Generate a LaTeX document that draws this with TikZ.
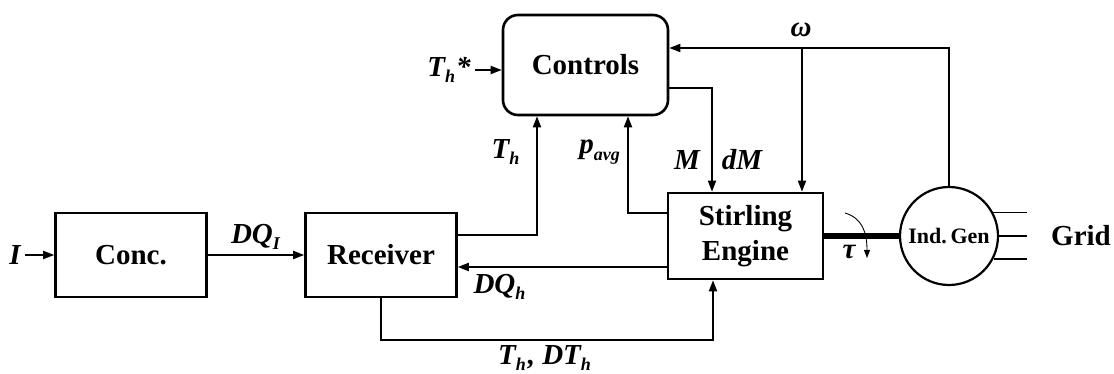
\documentclass[tikz,border=0pt]{standalone}
\usepackage{fontspec}
\setmainfont{Liberation Serif}
\usetikzlibrary{arrows.meta}
\newcommand{\lsub}[1]{\raisebox{-0.22em}{\fontsize{18}{18}\selectfont #1\kern1pt}}
\begin{document}
\begin{tikzpicture}[x=1pt,y=-1pt,
  blk/.style={draw, line width=2.6pt, inner sep=0pt, font=\fontsize{29}{35}\selectfont\bfseries, align=center},
  lbl/.style={inner sep=0pt, font=\fontsize{29}{33}\selectfont\bfseries\itshape},
  conn/.style={line width=1.8pt},
  arr/.style={line width=1.8pt, -{Triangle[length=11pt,width=8pt]}}]
\useasboundingbox (0,0) rectangle (1114,374);
% blocks
\node[blk, minimum width=151pt, minimum height=84pt] (conc) at (131,255) {Conc.};
\node[blk, minimum width=151pt, minimum height=84pt] (rec) at (381,255) {Receiver};
\node[blk, minimum width=165pt, minimum height=100pt, rounded corners=15pt] (ctl) at (585.5,65) {Controls};
\node[blk, minimum width=155pt, minimum height=86pt] (se) at (745.5,236) {Stirling\\Engine};
\node[draw, circle, line width=2.2pt, minimum size=98pt, inner sep=0pt, font=\fontsize{22}{24}\selectfont\bfseries] (gen) at (949,236) {Ind.\,Gen};
% labels
\node[lbl] (I) at (15,255) {I};
\node[lbl] (thstar) at (449,70) {T\lsub{h}*};
\node[lbl] (dqi) at (256,237) {DQ\lsub{I}};
\node[lbl] (dqh) at (500,287) {DQ\lsub{h}};
\node[lbl] (th) at (506,152) {T\lsub{h}};
\node[lbl] (pavg) at (600,152) {p\lsub{avg}};
\node[lbl] (m) at (687,160) {M};
\node[lbl] (dm) at (742,160) {dM};
\node[lbl] (om) at (801,30) {ω};
\node[lbl] (tau) at (849,252) {τ};
\node[lbl] (thdth) at (545,358) {T\lsub{h}\kern1pt, DT\lsub{h}};
\node[inner sep=0pt, font=\fontsize{29}{33}\selectfont\bfseries] (grid) at (1081,236) {Grid};
% helper coordinates
\coordinate (low) at (0,340);
\coordinate (wj) at (802,48);
\coordinate (gx) at (1027,0);
% connectors
\draw[arr] (I.east) ++(4,0) -- (conc.west);
\draw[arr] (thstar.east) ++(4,0) -- (ctl.west |- thstar.east);
\draw[arr] (conc.east) -- (rec.west);
\draw[arr] ([yshift=20pt]rec.east) -| ([xshift=-48.5pt]ctl.south);
\draw[arr] ([yshift=23pt]se.west) -| ([xshift=42.5pt]ctl.south);
\draw[arr] ([yshift=-31pt]se.west) -- ([yshift=-12pt]rec.east);
\draw[arr] (rec.south) -- (rec.south |- low) -| ([xshift=-32.5pt]se.south);
\draw[arr] ([yshift=-23pt]ctl.east) -| ([xshift=-33.5pt]se.north);
\draw[arr] (gen.north) |- ([yshift=17pt]ctl.east);
\draw[arr] (wj) -- (wj |- se.north);
\draw[line width=6pt] (se.east) -- (gen.west);
\draw[conn] (gen.28) -- (gen.28 -| gx);
\draw[conn] (gen.east) -- (gen.east -| gx);
\draw[conn] (gen.-27) -- (gen.-27 -| gx);
\draw[line width=0.9pt, -{Triangle[length=8pt,width=6pt]}] (845,213) .. controls (862,218) and (867,232) .. (867,258);
\end{tikzpicture}
\end{document}
